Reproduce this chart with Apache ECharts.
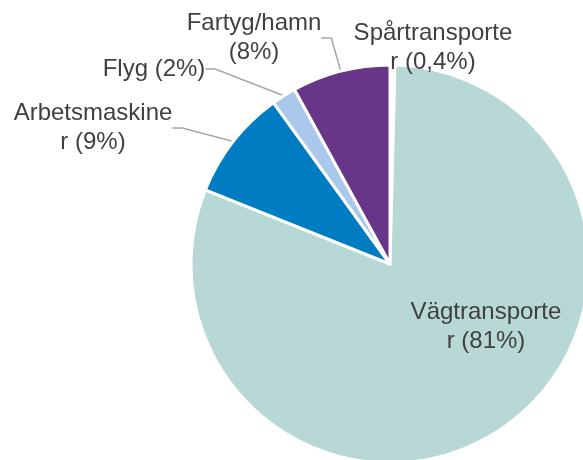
<!DOCTYPE html>
<html>
<head>
<meta charset="utf-8">
<script src="https://cdn.jsdelivr.net/npm/echarts@6/dist/echarts.min.js"></script>
<style>html,body{margin:0;padding:0;background:#fff}#c{width:583px;height:460px}</style>
</head>
<body>
<div id="c"></div>
<script>
const categories = ['Spårtransporter', 'Vägtransporter', 'Arbetsmaskiner', 'Flyg', 'Fartyg/hamn'];
const values = [0.4, 81, 9, 2, 8];
const labelTexts = ['Spårtransporte\nr (0,4%)', 'Vägtransporte\nr (81%)', 'Arbetsmaskine\nr (9%)', 'Flyg (2%)', 'Fartyg/hamn\n(8%)'];
const colors = ['#FFFFFF', '#B7D8D4', '#007CC3', '#AAC8EC', '#683688'];
const labelPos = [[433, 48], [486, 327], [93, 128], [154, 69], [254, 38]];

const chart = echarts.init(document.getElementById('c'), null, {renderer: 'canvas'});
chart.setOption({
  animation: false,
  series: [{
    type: 'pie',
    center: [390, 264],
    radius: 199,
    startAngle: 90,
    clockwise: true,
    avoidLabelOverlap: false,
    itemStyle: {borderColor: '#fff', borderWidth: 3},
    label: {
      show: true,
      color: '#404040',
      fontFamily: 'Liberation Sans, Arial, sans-serif',
      fontSize: 24,
      lineHeight: 29,
      align: 'center',
      formatter: p => labelTexts[p.dataIndex]
    },
    labelLine: {show: true, lineStyle: {color: '#A6A6A6', width: 1.5}, length: 10, length2: 10},
    labelLayout: p => ({
      x: labelPos[p.dataIndex][0],
      y: labelPos[p.dataIndex][1],
      align: 'center',
      verticalAlign: 'middle'
    }),
    data: categories.map((c, i) => ({
      name: c,
      value: values[i],
      itemStyle: {color: colors[i]},
      labelLine: {show: i >= 2}
    }))
  }]
});
</script>
</body>
</html>
